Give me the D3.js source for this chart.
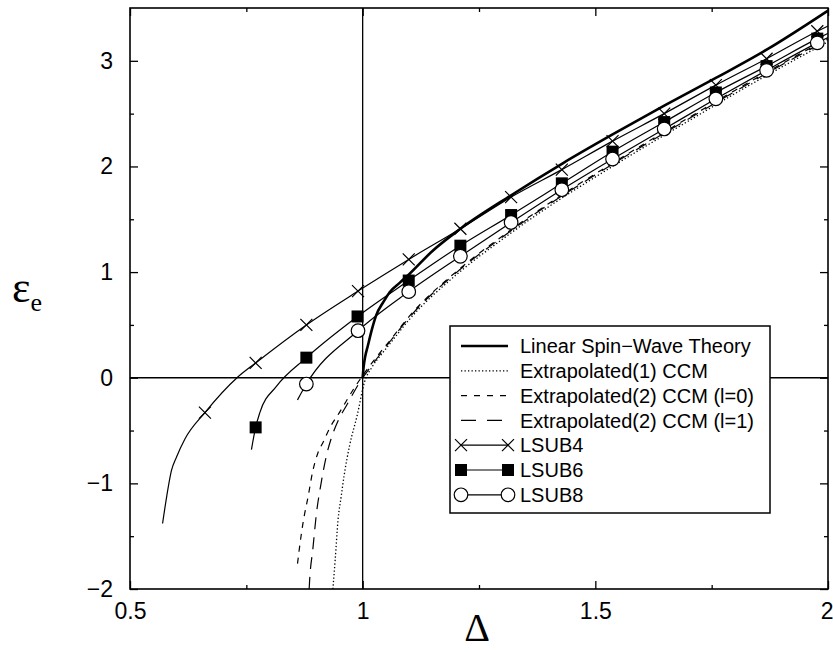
<!DOCTYPE html>
<html>
<head>
<meta charset="utf-8">
<script src="https://cdn.jsdelivr.net/npm/d3@7"></script>
<style>
  body { margin: 0; background: #fff; }
  text { font-family: "Liberation Sans", Arial, sans-serif; fill: #000; }
</style>
</head>
<body>
<div id="plot"></div>
<script>
"use strict";

//
//   DATA
//

var xMajor = [0.5, 1, 1.5, 2];
var xMinor = [0.75, 1.25, 1.75];
var yMajor = [-2, -1, 0, 1, 2, 3];
var yMinor = [-1.5, -0.5, 0.5, 1.5, 2.5];

// Linear spin-wave theory (thick solid)
var lswt = [[1.0, 0], [1.002, 0.1], [1.005, 0.19], [1.011, 0.30], [1.02, 0.46], [1.029, 0.59],
  [1.045, 0.72], [1.058, 0.81], [1.08, 0.90], [1.10, 0.98], [1.15, 1.20], [1.21, 1.41],
  [1.32, 1.73], [1.43, 2.03], [1.54, 2.31], [1.65, 2.58], [1.76, 2.84], [1.87, 3.11], [2.0, 3.475]];

// Extrapolated(1) CCM (dotted)
var ccm1 = [[0.936, -2.0], [0.941, -1.72], [0.947, -1.35], [0.954, -1.12], [0.960, -0.93],
  [0.972, -0.64], [0.988, -0.36], [1.004, -0.04], [1.02, 0.10], [1.04, 0.22], [1.06, 0.33],
  [1.1, 0.55], [1.2, 0.97], [1.3, 1.31], [1.4, 1.62], [1.5, 1.90], [1.6, 2.17], [1.7, 2.43],
  [1.8, 2.69], [1.9, 2.94], [2.0, 3.18]];

// Extrapolated(2) CCM (l=0) (short dashes)
var ccm2l0 = [[0.860, -1.76], [0.866, -1.55], [0.872, -1.37], [0.883, -1.12], [0.892, -0.90],
  [0.904, -0.71], [0.915, -0.61], [0.930, -0.47], [0.950, -0.33], [0.983, -0.09], [1.0, 0.02],
  [1.02, 0.14], [1.06, 0.36], [1.1, 0.58], [1.2, 1.0], [1.3, 1.34], [1.4, 1.65], [1.5, 1.93],
  [1.6, 2.2], [1.7, 2.46], [1.8, 2.72], [1.9, 2.97], [2.0, 3.21]];

// Extrapolated(2) CCM (l=1) (long dashes)
var ccm2l1 = [[0.885, -2.0], [0.886, -1.92], [0.893, -1.62], [0.900, -1.31], [0.911, -0.99],
  [0.922, -0.74], [0.932, -0.58], [0.948, -0.40], [0.965, -0.265], [0.994, -0.04], [1.02, 0.12],
  [1.06, 0.35], [1.1, 0.57], [1.2, 0.99], [1.3, 1.33], [1.4, 1.64], [1.5, 1.92], [1.6, 2.19],
  [1.7, 2.45], [1.8, 2.71], [1.9, 2.96], [2.0, 3.2]];

// LSUB curves and their marker points
var lsub4Line = [[0.570, -1.38], [0.579, -1.12], [0.589, -0.88], [0.600, -0.75], [0.618, -0.58],
  [0.661, -0.33], [0.730, 0.0], [0.770, 0.14], [0.879, 0.50], [0.990, 0.82], [1.099, 1.12],
  [1.21, 1.41], [1.319, 1.71], [1.428, 1.97], [1.537, 2.24], [1.648, 2.50], [1.759, 2.77],
  [1.868, 3.02], [1.977, 3.28], [2.0, 3.33]];
var lsub4Marks = [[0.661, -0.33], [0.770, 0.14], [0.879, 0.50], [0.990, 0.82], [1.099, 1.12],
  [1.21, 1.41], [1.319, 1.71], [1.428, 1.97], [1.537, 2.24], [1.648, 2.50], [1.759, 2.77],
  [1.868, 3.02], [1.977, 3.28]];

var lsub6Line = [[0.761, -0.68], [0.770, -0.47], [0.779, -0.33], [0.815, -0.08], [0.879, 0.19],
  [0.989, 0.58], [1.099, 0.92], [1.21, 1.25], [1.319, 1.54], [1.428, 1.84], [1.537, 2.14],
  [1.648, 2.42], [1.759, 2.70], [1.868, 2.95], [1.977, 3.21], [2.0, 3.26]];
var lsub6Marks = [[0.770, -0.47], [0.879, 0.19], [0.989, 0.58], [1.099, 0.92], [1.21, 1.25],
  [1.319, 1.54], [1.428, 1.84], [1.537, 2.14], [1.648, 2.42], [1.759, 2.70], [1.868, 2.95],
  [1.977, 3.21]];

var lsub8Line = [[0.860, -0.21], [0.879, -0.06], [0.990, 0.445], [1.099, 0.815], [1.21, 1.15],
  [1.319, 1.47], [1.428, 1.78], [1.537, 2.07], [1.648, 2.355], [1.759, 2.64], [1.868, 2.91],
  [1.977, 3.17], [2.0, 3.22]];
var lsub8Marks = [[0.879, -0.06], [0.990, 0.445], [1.099, 0.815], [1.21, 1.15], [1.319, 1.47],
  [1.428, 1.78], [1.537, 2.07], [1.648, 2.355], [1.759, 2.64], [1.868, 2.91], [1.977, 3.17]];

var legendLabels = ["Linear Spin\u2212Wave Theory", "Extrapolated(1) CCM",
  "Extrapolated(2) CCM (l=0)", "Extrapolated(2) CCM (l=1)", "LSUB4", "LSUB6", "LSUB8"];


//
//   SET UP
//

var W = 833, H = 652;
var padLeft = 130, padRight = 828, padTop = 8, padBottom = 589;

var svg = d3.select("#plot").append("svg").attr("width", W).attr("height", H);

var x = d3.scaleLinear().domain([0.5, 2]).range([padLeft, padRight]);
var y = d3.scaleLinear().domain([-2, 3.5]).range([padBottom, padTop]);

svg.append("clipPath").attr("id", "clip")
  .append("rect").attr("x", padLeft).attr("y", padTop)
  .attr("width", padRight - padLeft).attr("height", padBottom - padTop);

var line = d3.line()
  .x(function (d) { return x(d[0]); })
  .y(function (d) { return y(d[1]); })
  .curve(d3.curveMonotoneX);

// zero lines
svg.append("line").attr("x1", padLeft).attr("x2", padRight).attr("y1", y(0)).attr("y2", y(0))
  .attr("stroke", "#000").attr("stroke-width", 1.3);
svg.append("line").attr("x1", x(1)).attr("x2", x(1)).attr("y1", padTop).attr("y2", padBottom)
  .attr("stroke", "#000").attr("stroke-width", 1.3);


//
//   AXES
//

// ticks point inward; pad > 0 means draw labels with that padding
function addAxis(axis, tx, ty, values, size, pad) {
  var g = svg.append("g").attr("transform", "translate(" + tx + "," + ty + ")")
    .call(axis.tickValues(values).tickSizeInner(-size).tickSizeOuter(0)
      .tickPadding(pad)
      .tickFormat(pad > 0 ? d3.format("") : ""));
  g.select(".domain").remove();
  g.selectAll(".tick line").attr("stroke", "#000").attr("stroke-width", 1.3);
  g.selectAll("text").attr("fill", "#000").style("font-size", "23px")
    .style("font-family", "Liberation Sans, Arial, sans-serif");
  return g;
}

var xAxisG = addAxis(d3.axisBottom(x), 0, padBottom, xMajor, 8, 14);
// keep the last label ("2") inside the page edge
xAxisG.selectAll(".tick text").filter(function (d) { return d === 2; })
  .attr("text-anchor", "end").attr("dx", 5);
addAxis(d3.axisBottom(x), 0, padBottom, xMinor, 4, 0);
addAxis(d3.axisTop(x), 0, padTop, xMajor, 8, 0);
addAxis(d3.axisTop(x), 0, padTop, xMinor, 4, 0);
addAxis(d3.axisLeft(y), padLeft, 0, yMajor, 8, 17);
addAxis(d3.axisLeft(y), padLeft, 0, yMinor, 4, 0);
addAxis(d3.axisRight(y), padRight, 0, yMajor, 8, 0);
addAxis(d3.axisRight(y), padRight, 0, yMinor, 4, 0);

svg.append("rect").attr("x", padLeft).attr("y", padTop)
  .attr("width", padRight - padLeft).attr("height", padBottom - padTop)
  .attr("fill", "none").attr("stroke", "#000").attr("stroke-width", 1.6);

// axis titles
svg.append("text").attr("x", 477).attr("y", 641).attr("text-anchor", "middle")
  .style("font-family", "Liberation Serif, Times New Roman, serif").style("font-size", "40px")
  .text("\u0394");
var eps = svg.append("text").attr("x", 12).attr("y", 302)
  .style("font-family", "Liberation Serif, Times New Roman, serif").style("font-size", "44px");
eps.append("tspan").text("\u03b5");
eps.append("tspan").attr("dy", 9).style("font-size", "26px").text("e");


//
//   CURVES
//

var plot = svg.append("g").attr("clip-path", "url(#clip)");

var series = [
  { data: ccm1, width: 1.3, dash: "1.3,2.2" },
  { data: ccm2l0, width: 1.2, dash: "6,6" },
  { data: ccm2l1, width: 1.2, dash: "12,8" },
  { data: lsub4Line, width: 1.2, dash: null },
  { data: lsub6Line, width: 1.2, dash: null },
  { data: lsub8Line, width: 1.2, dash: null },
  { data: lswt, width: 2.6, dash: null }
];

series.forEach(function (s) {
  plot.append("path").attr("d", line(s.data))
    .attr("fill", "none").attr("stroke", "#000")
    .attr("stroke-width", s.width)
    .attr("stroke-dasharray", s.dash);
});

function drawCross(g, px, py) {
  g.append("path").attr("d", "M" + (px - 6) + "," + (py - 6) + "L" + (px + 6) + "," + (py + 6) +
    "M" + (px - 6) + "," + (py + 6) + "L" + (px + 6) + "," + (py - 6))
    .attr("stroke", "#000").attr("stroke-width", 1.2).attr("fill", "none");
}
function drawSquare(g, px, py) {
  g.append("rect").attr("x", px - 6).attr("y", py - 6).attr("width", 12).attr("height", 12).attr("fill", "#000");
}
function drawCircle(g, px, py) {
  g.append("circle").attr("cx", px).attr("cy", py).attr("r", 6.8)
    .attr("fill", "#fff").attr("stroke", "#000").attr("stroke-width", 1.2);
}

lsub4Marks.forEach(function (d) { drawCross(plot, x(d[0]), y(d[1])); });
lsub6Marks.forEach(function (d) { drawSquare(plot, x(d[0]), y(d[1])); });
lsub8Marks.forEach(function (d) { drawCircle(plot, x(d[0]), y(d[1])); });


//
//   LEGEND
//

var lg = svg.append("g");
lg.append("rect").attr("x", 450).attr("y", 326).attr("width", 320).attr("height", 187)
  .attr("fill", "#fff").attr("stroke", "#000").attr("stroke-width", 1.5);

var styles = [
  { width: 2.6, dash: null, mark: null },
  { width: 1.3, dash: "1.3,2.2", mark: null },
  { width: 1.2, dash: "6,7", mark: null },
  { width: 1.2, dash: "15,11", mark: null },
  { width: 1.2, dash: null, mark: drawCross },
  { width: 1.2, dash: null, mark: drawSquare },
  { width: 1.2, dash: null, mark: drawCircle }
];

legendLabels.forEach(function (label, i) {
  var cy = 346 + i * 24.8;
  lg.append("line").attr("x1", 461).attr("x2", 508).attr("y1", cy).attr("y2", cy)
    .attr("stroke", "#000").attr("stroke-width", styles[i].width)
    .attr("stroke-dasharray", styles[i].dash);
  if (styles[i].mark) {
    styles[i].mark(lg, 461, cy);
    styles[i].mark(lg, 508, cy);
  }
  lg.append("text").attr("x", 520).attr("y", cy).attr("dy", "0.36em")
    .style("font-size", "20px").text(label);
});
</script>
</body>
</html>
